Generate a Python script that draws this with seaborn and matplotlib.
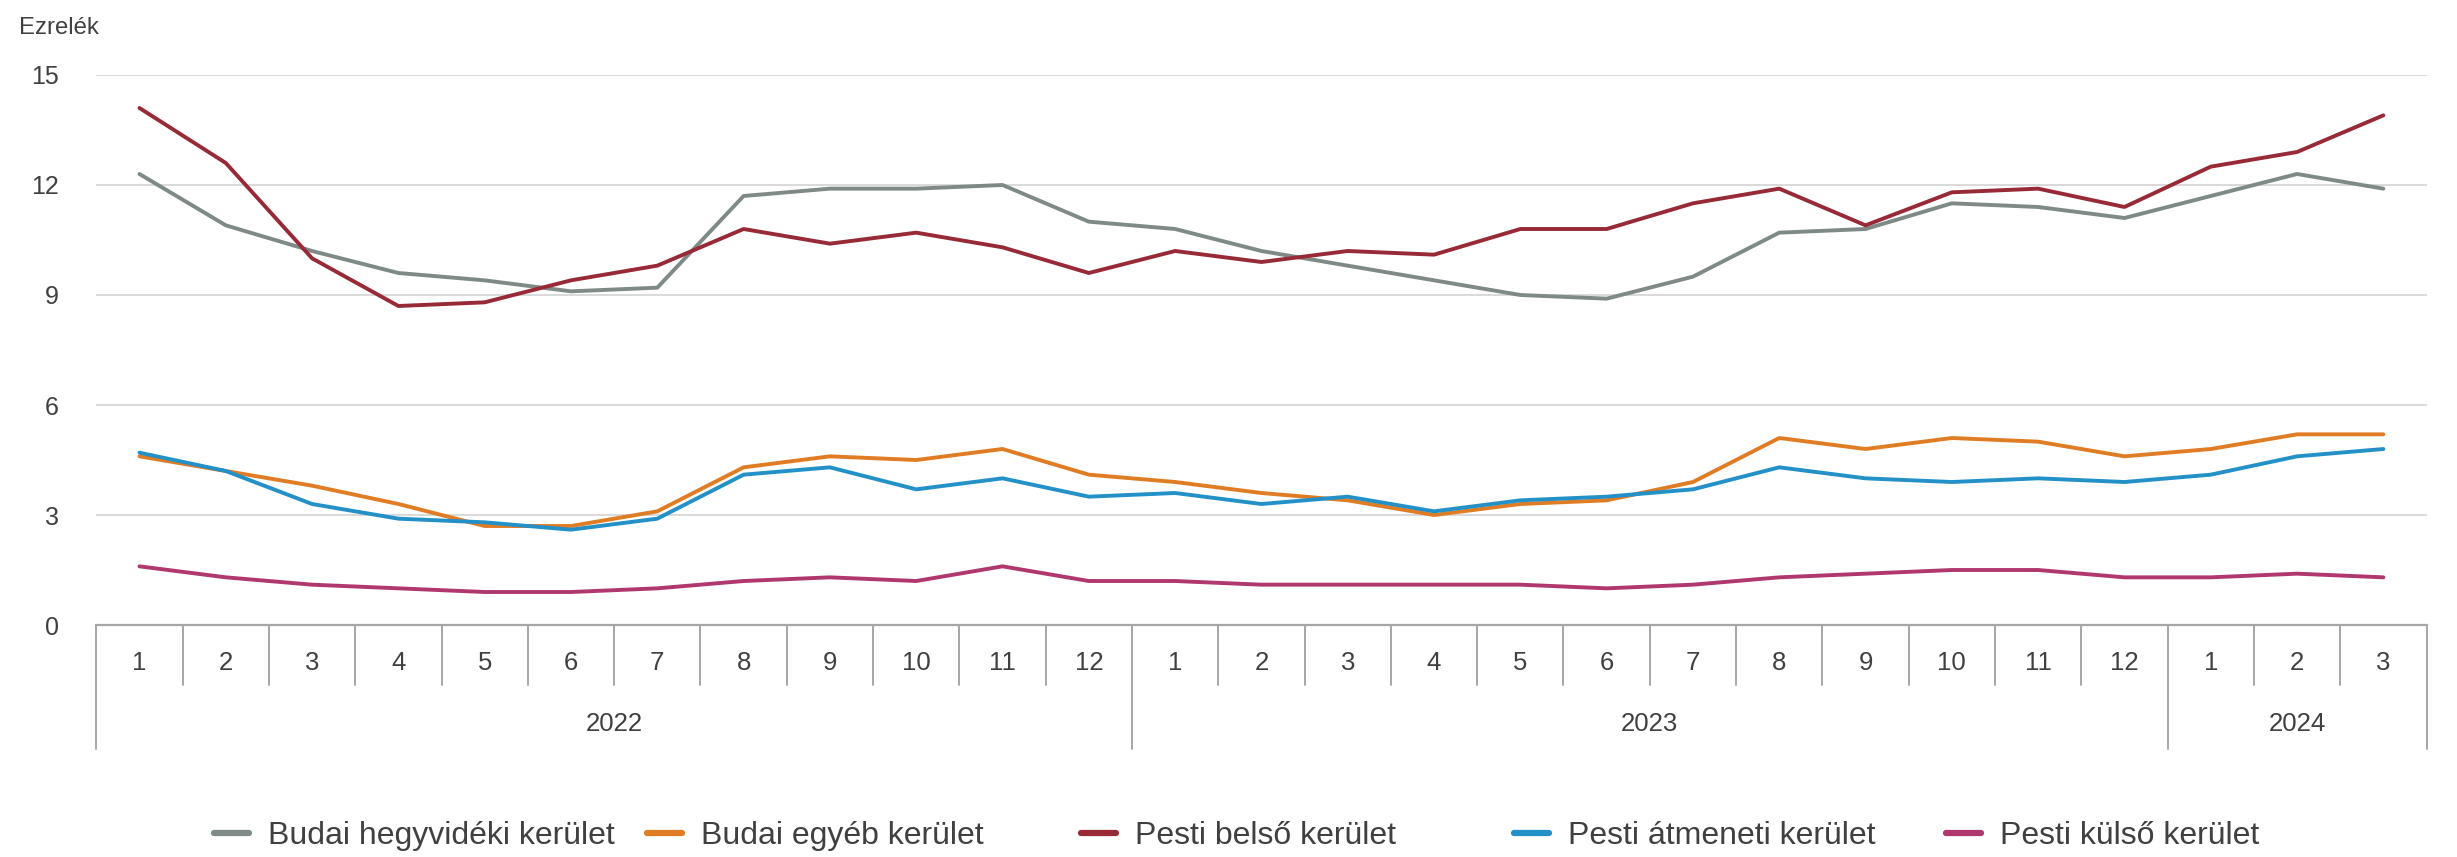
import matplotlib
matplotlib.use("Agg")
import matplotlib.pyplot as plt
import matplotlib.transforms as mtransforms
import numpy as np
import pandas as pd
import seaborn as sns

# Monthly values, Jan 2022 - Mar 2024
years = ["2022"] * 12 + ["2023"] * 12 + ["2024"] * 3
months = [str(m) for m in range(1, 13)] * 2 + ["1", "2", "3"]

budai_hegyvideki = [12.3, 10.9, 10.2, 9.6, 9.4, 9.1, 9.2, 11.7, 11.9, 11.9, 12.0, 11.0,
                    10.8, 10.2, 9.8, 9.4, 9.0, 8.9, 9.5, 10.7, 10.8, 11.5, 11.4, 11.1,
                    11.7, 12.3, 11.9]
budai_egyeb = [4.6, 4.2, 3.8, 3.3, 2.7, 2.7, 3.1, 4.3, 4.6, 4.5, 4.8, 4.1,
               3.9, 3.6, 3.4, 3.0, 3.3, 3.4, 3.9, 5.1, 4.8, 5.1, 5.0, 4.6,
               4.8, 5.2, 5.2]
pesti_belso = [14.1, 12.6, 10.0, 8.7, 8.8, 9.4, 9.8, 10.8, 10.4, 10.7, 10.3, 9.6,
               10.2, 9.9, 10.2, 10.1, 10.8, 10.8, 11.5, 11.9, 10.9, 11.8, 11.9, 11.4,
               12.5, 12.9, 13.9]
pesti_atmeneti = [4.7, 4.2, 3.3, 2.9, 2.8, 2.6, 2.9, 4.1, 4.3, 3.7, 4.0, 3.5,
                  3.6, 3.3, 3.5, 3.1, 3.4, 3.5, 3.7, 4.3, 4.0, 3.9, 4.0, 3.9,
                  4.1, 4.6, 4.8]
pesti_kulso = [1.6, 1.3, 1.1, 1.0, 0.9, 0.9, 1.0, 1.2, 1.3, 1.2, 1.6, 1.2,
               1.2, 1.1, 1.1, 1.1, 1.1, 1.0, 1.1, 1.3, 1.4, 1.5, 1.5, 1.3,
               1.3, 1.4, 1.3]

series_names = ["Budai hegyvidéki kerület", "Budai egyéb kerület", "Pesti belső kerület",
                "Pesti átmeneti kerület", "Pesti külső kerület"]
series_values = [budai_hegyvideki, budai_egyeb, pesti_belso, pesti_atmeneti, pesti_kulso]
colors = ["#7f8a86", "#e07c24", "#972a36", "#2390c8", "#b0386f"]
y_ticks = [0, 3, 6, 9, 12, 15]

n = len(months)
frames = []
for name, vals in zip(series_names, series_values):
    frames.append(pd.DataFrame({"idx": np.arange(n), "value": vals, "series": name}))
df = pd.concat(frames, ignore_index=True)

sns.set_theme(style="white")
plt.rcParams["font.family"] = ["Liberation Sans", "DejaVu Sans"]
text_color = "#404040"

fig = plt.figure(figsize=(24.57, 8.57), dpi=100)
ax = fig.add_axes([0.0392, 0.2707, 0.9484, 0.6418])

sns.lineplot(data=df, x="idx", y="value", hue="series", hue_order=series_names,
             palette=colors, linewidth=2.8, ax=ax, legend=True)

ax.set_xlim(-0.5, n - 0.5)
ax.set_ylim(0, 15)
ax.set_yticks(y_ticks)
ax.set_yticklabels([str(t) for t in y_ticks])
ax.yaxis.grid(True, color="#d9d9d9", linewidth=1.4)
ax.xaxis.grid(False)
for side in ["top", "right", "left"]:
    ax.spines[side].set_visible(False)
ax.spines["bottom"].set_color("#a6a6a6")
ax.spines["bottom"].set_linewidth(1.6)
ax.tick_params(axis="y", length=0, pad=27, labelsize=18, labelcolor=text_color)
ax.set_xlabel("")
ax.set_ylabel("")

# Multi-level category axis: months on the first row, years below
ax.set_xticks(np.arange(n))
ax.set_xticklabels(months)
ax.tick_params(axis="x", length=0, pad=19, labelsize=18.5, labelcolor=text_color)

trans = mtransforms.blended_transform_factory(ax.transData, ax.transAxes)
sep_color = "#a6a6a6"
for i in range(n + 1):
    x = i - 0.5
    year_edge = i == 0 or i == n or years[i] != years[i - 1]
    bottom = -0.2255 if year_edge else -0.109
    ax.plot([x, x], [0, bottom], transform=trans, color=sep_color,
            linewidth=1.4, clip_on=False)

year_order = list(dict.fromkeys(years))
for yr in year_order:
    idxs = [i for i, y in enumerate(years) if y == yr]
    center = (idxs[0] + idxs[-1]) / 2
    ax.text(center, -0.18, yr, transform=trans, ha="center", va="center",
            fontsize=18.5, color=text_color)

fig.text(19 / 2457, 1 - 28 / 857, "Ezrelék", ha="left", va="center",
         fontsize=17.2, color=text_color)

# Legend entries sit in equal-width slots along the bottom
handles, labels = ax.get_legend_handles_labels()
ax.get_legend().remove()
for h in handles:
    h.set_linewidth(4.5)
slot_left = [214 / 2457, 647 / 2457, 1081 / 2457, 1514 / 2457, 1946 / 2457]
legend_y = 1 - 836 / 857
for h, lab, xl in zip(handles, labels, slot_left):
    leg = fig.legend([h], [lab], loc="center left", bbox_to_anchor=(xl, legend_y),
                     frameon=False, fontsize=23, handlelength=1.1, handletextpad=0.6,
                     borderpad=0, borderaxespad=0, labelcolor=text_color)

fig.savefig("out.png", dpi=100, facecolor="white")
